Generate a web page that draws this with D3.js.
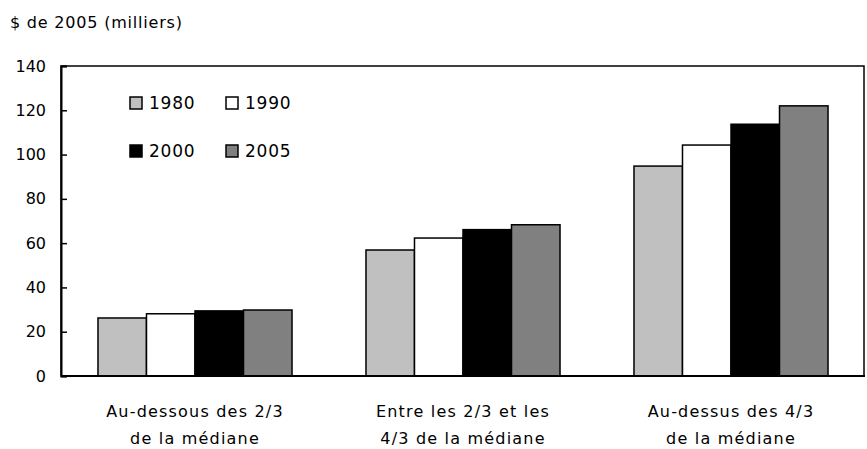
<!DOCTYPE html>
<html>
<head>
<meta charset="utf-8">
<script src="https://cdn.jsdelivr.net/npm/d3@7"></script>
<style>
  body { margin: 0; background: #fff; }
  text { font-family: "DejaVu Sans", sans-serif; fill: #000; }
</style>
</head>
<body>
<div id="chart"></div>
<script>
// data
const categories = [
  ['Au-dessous des 2/3', 'de la médiane'],
  ['Entre les 2/3 et les', '4/3 de la médiane'],
  ['Au-dessus des 4/3', 'de la médiane']
]
const years = ['1980', '1990', '2000', '2005']
const colors = ['#c0c0c0', '#ffffff', '#000000', '#808080']
const values1980 = [26.2, 56.9, 94.8]
const values1990 = [28.1, 62.3, 104.3]
const values2000 = [29.4, 66.1, 113.7]
const values2005 = [29.8, 68.3, 122]
const yTicks = [0, 20, 40, 60, 80, 100, 120, 140]

const series = [values1980, values1990, values2000, values2005]

const width = 867
const height = 449
const margin = { top: 66, right: 2, bottom: 73, left: 61 }

const svg = d3.select('#chart')
  .append('svg')
  .attr('width', width)
  .attr('height', height)

// scales
const x = d3.scaleBand()
  .domain(d3.range(categories.length))
  .range([margin.left, width - margin.right])
  .paddingInner(0.276)
  .paddingOuter(0.138)

const xInner = d3.scaleBand()
  .domain(years)
  .range([0, x.bandwidth()])

const y = d3.scaleLinear()
  .domain([0, 140])
  .range([height - margin.bottom, margin.top])

// bars
const groups = svg.append('g')
  .selectAll('g')
  .data(categories)
  .join('g')
  .attr('transform', (d, i) => `translate(${x(i)},0)`)

groups.selectAll('rect')
  .data((d, i) => series.map((s, j) => ({ year: years[j], value: s[i], color: colors[j] })))
  .join('rect')
  .attr('x', d => xInner(d.year))
  .attr('y', d => y(d.value))
  .attr('width', xInner.bandwidth())
  .attr('height', d => y(0) - y(d.value))
  .attr('fill', d => d.color)
  .attr('stroke', '#000')
  .attr('stroke-width', 1.5)

// frame
svg.append('rect')
  .attr('x', margin.left)
  .attr('y', margin.top)
  .attr('width', width - margin.right - margin.left - 1)
  .attr('height', y(0) - margin.top)
  .attr('fill', 'none')
  .attr('stroke', '#000')
  .attr('stroke-width', 1.5)

// y axis
const yAxis = svg.append('g')
  .attr('transform', `translate(${margin.left},0)`)
  .call(d3.axisRight(y).tickValues(yTicks).tickSize(6).tickFormat(d3.format('d')))
yAxis.select('.domain').attr('stroke-width', 2)
yAxis.selectAll('.tick line').attr('stroke-width', 1.5)
yAxis.selectAll('.tick text')
  .attr('x', -15)
  .attr('text-anchor', 'end')
  .style('font-size', '16px')

// x axis line
svg.append('line')
  .attr('x1', margin.left)
  .attr('x2', width - margin.right)
  .attr('y1', y(0))
  .attr('y2', y(0))
  .attr('stroke', '#000')
  .attr('stroke-width', 2)

// category labels
svg.append('g')
  .selectAll('text')
  .data(categories)
  .join('text')
  .attr('x', (d, i) => x(i) + x.bandwidth() / 2)
  .attr('y', 417)
  .attr('text-anchor', 'middle')
  .style('font-size', '16px')
  .style('letter-spacing', '1.2px')
  .selectAll('tspan')
  .data(d => d)
  .join('tspan')
  .attr('x', function () { return this.parentNode.getAttribute('x') })
  .attr('dy', (d, i) => i === 0 ? 0 : 27)
  .text(d => d)

// y title
svg.append('text')
  .attr('x', 10)
  .attr('y', 28)
  .style('font-size', '16px')
  .style('letter-spacing', '0.8px')
  .text('$ de 2005 (milliers)')

// legend
const legend = svg.append('g')
  .selectAll('g')
  .data(years)
  .join('g')
  .attr('transform', (d, i) => `translate(${130 + (i % 2) * 96},${97 + Math.floor(i / 2) * 48})`)

legend.append('rect')
  .attr('width', 12)
  .attr('height', 12)
  .attr('fill', (d, i) => colors[i])
  .attr('stroke', '#000')
  .attr('stroke-width', 1.5)

legend.append('text')
  .attr('x', 19)
  .attr('y', 12)
  .style('font-size', '17px')
  .style('letter-spacing', '0.8px')
  .text(d => d)
</script>
</body>
</html>
